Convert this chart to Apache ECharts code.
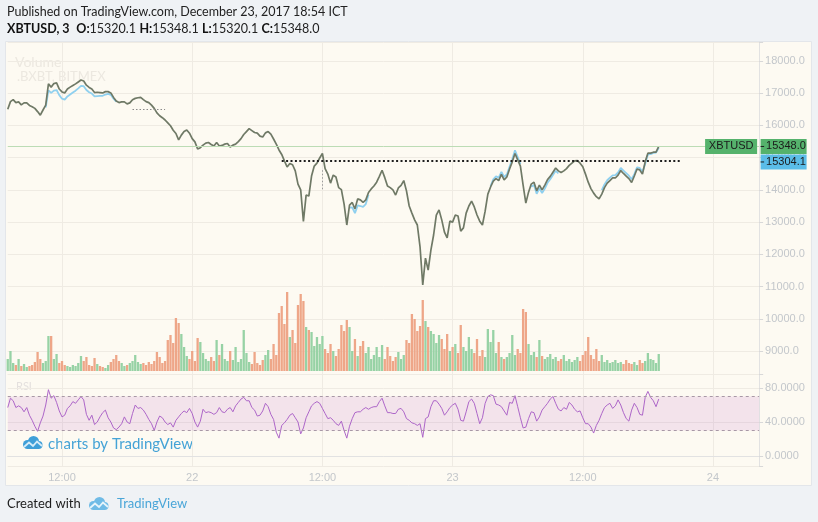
<!DOCTYPE html>
<html><head><meta charset="utf-8">
<script src="https://cdn.jsdelivr.net/npm/echarts@6/dist/echarts.min.js"></script>
<style>html,body{margin:0;padding:0;background:#eff2f5;}#c{width:818px;height:522px;}</style>
</head><body><div id="c"></div>
<script>
// ---- time axis (hours since Dec 21 00:00 ICT, 15-minute steps) ----
const startHour = 7;
const stepHours = 0.25;
const axisEndHour = 76.25;

// ---- XBTUSD (BitMEX) price, 15-minute samples ----
const price = [
16500,16740,16800,16710,16730,16640,16700,16700,16620,16580,
16530,16430,16320,16480,16630,17290,17190,17300,17320,17130,
17040,17010,17130,17190,17240,17290,17350,17410,17380,17250,
17180,17130,17020,17030,17020,17010,17050,17050,17010,16870,
16760,16710,16730,16730,16670,16700,16800,16840,16860,16870,
16800,16740,16710,16630,16530,16390,16300,16240,16170,16080,
15990,15850,15750,15550,15700,15810,15860,15760,15590,15490,
15270,15310,15390,15450,15470,15410,15360,15470,15360,15380,
15420,15440,15330,15390,15420,15500,15590,15720,15810,15900,
15840,15780,15760,15670,15640,15770,15810,15730,15580,15420,
15240,15100,14900,14710,14820,14780,14590,14180,14000,13020,
13840,13810,14430,14740,14830,14990,15130,14660,14490,14210,
14460,14400,14070,14010,13560,12910,13530,13610,13410,13720,
13690,13610,13690,13920,14030,14120,14240,14420,14610,14380,
14120,14070,14000,13840,14060,14140,14290,13970,13500,13280,
13070,12910,12230,11050,11880,11510,12130,12600,13220,13380,
13070,12690,12510,13030,13000,13220,13190,12720,12820,13280,
13500,13650,13470,13220,13030,12910,13340,13870,14090,14270,
14350,14290,14480,14310,14400,14650,14870,15130,14930,14740,
14150,13590,13930,14180,14240,13970,14150,14000,14150,14320,
14420,14550,14680,14590,14540,14590,14660,14760,14830,14900,
14910,14830,14720,14490,14240,14040,13900,13790,13720,13870,
14070,14210,14290,14370,14370,14460,14600,14510,14430,14350,
14230,14430,14650,14620,14490,14870,15140,15140,15170,15170,
15348.0];

// ---- .BXBT index, only where it separates from the price ----
const bxbtSegments = [
  {from:14, values:[16560,17090,17010,17080,17100,16940,16830,16800,16900,16960,17020,17080,17150,17230,17220,17100,17030,16990,16900,16910,16920,16920,16960,16980,16950,16830,16740]},
  {from:126, values:[13450,13460,13280,13520,13500,13470,13560,13850]},
  {from:178, values:[14120,14330,14420,14380,14560,14400,14480,14720,14950,15230,15020,14800]},
  {from:193, values:[14100,14150,13880,14050,13900,14040,14220,14330,14460,14590,14510]},
  {from:219, values:[13990,14170,14300,14380,14450,14460,14540,14680,14600,14520,14440,14330,14490,14700,14680,14560,14800,15100,15110,15150,15160,15304.1]}
];

// ---- volume (relative) ----
const volume = [
12,20,8,6,12,5,7,4,5,6, 9,19,12,8,10,35,35,12,17,8,
10,6,5,4,6,5,8,15,10,14, 6,5,13,7,5,4,3,6,9,12,
16,10,8,5,6,8,10,16,9,7, 8,6,9,7,10,19,14,8,10,31,
36,28,53,48,37,24,15,12,20,10, 33,29,18,12,10,14,10,31,16,27,
12,10,20,11,24,9,12,41,18,9, 7,19,8,6,11,16,21,12,27,16,
58,65,47,79,34,41,28,66,77,70, 44,41,39,25,34,27,35,22,18,27,
20,15,22,46,40,51,44,20,32,15, 25,30,18,24,12,16,24,14,26,12,
24,15,10,14,19,12,16,31,28,57, 52,40,45,71,50,44,40,37,28,36,
32,22,37,20,24,27,18,46,24,20, 34,22,18,32,15,21,14,42,29,41,
18,29,14,12,14,18,36,16,22,18, 62,59,27,16,19,14,31,15,12,14,
17,12,14,10,12,16,10,12,9,11, 14,10,16,20,34,16,12,22,10,16,
9,11,8,9,11,8,9,7,11,8, 7,9,6,11,8,10,18,12,11,8,
17];

// ---- RSI(14) ----
const rsi = [
57,68,65,57,59,57,52,57,48,42, 35,29,39,47,60,78,68,71,63,53,
46,48,56,59,64,62,66,70,66,49, 42,48,37,40,46,51,54,45,40,33,
31,34,38,46,40,38,50,60,56,57, 54,49,43,38,30,40,47,45,40,37,
39,34,42,46,50,53,51,56,50,40, 34,41,55,51,52,51,49,51,57,52,
51,55,57,52,59,63,67,69,65,65, 57,54,47,48,53,62,58,49,43,28,
21,36,39,43,48,50,45,40,26,33, 45,52,59,62,64,62,56,50,44,45,
42,38,36,41,30,21,35,44,51,52, 52,55,57,55,57,58,58,64,68,59,
51,51,50,50,55,56,52,44,42,39, 38,36,38,22,44,46,58,65,65,61,
56,48,52,57,60,62,55,42,41,52, 64,67,62,50,38,45,62,70,72,71,
61,60,58,53,48,63,62,71,58,45, 33,34,44,52,51,41,46,54,58,62,
67,70,62,55,53,57,55,63,60,55, 52,53,45,38,38,34,27,36,42,50,
57,60,62,56,59,66,60,51,44,41, 54,62,57,49,48,69,76,69,65,58,
67];

const lastPrice = 15348.0;
const lastIndex = 15304.1;
const levelLine = 14900;      // dotted horizontal drawing
const levelFrom = 101, levelTo = 248;
const oldLevel = 16510, oldFrom = 46, oldTo = 58;
const vMark = {at:116, hi:14610, lo:13990};
const rsiBand = [30, 70];

// ---- build ----
const cats = [];
for (let k = 0; startHour + k*stepHours <= axisEndHour + 1e-9; k++) cats.push(String(startHour + k*stepHours));
const bxbt = price.map(() => null);
bxbtSegments.forEach(s => s.values.forEach((v, j) => { bxbt[s.from + j] = v; }));

const is12 = (i, v) => Number(v) % 12 === 0;
const fmtX = v => { const h = Number(v); if (h % 24 === 0) return String(21 + h/24); if (h % 24 === 12) return '12:00'; return ''; };
const labelCol = '#c3c7cb';
const gridCol = '#efebe3';
const L = 7.75, R = 58.9;

const chart = echarts.init(document.getElementById('c'), null, {width:818, height:522});
const baseX = (gi, extra) => Object.assign({
  type:'category', gridIndex:gi, data:cats, boundaryGap:false,
  axisLine:{show:false}, axisTick:{show:false}, axisLabel:{show:false},
  splitLine:{show:true, interval:is12, lineStyle:{color:gridCol}}
}, extra||{});

const opt = {
  animation:false,
  backgroundColor:'#eff2f5',
  grid:[
    {left:L, right:R, top:42, height:332},
    {left:L, right:R, top:271, height:100},
    {left:L, right:R, top:374, height:92}
  ],
  xAxis:[
    baseX(0),
    baseX(1, {show:false, splitLine:{show:false}}),
    baseX(2, {axisLine:{show:true, lineStyle:{color:'#e2e2e2'}},
      axisLabel:{show:true, interval:is12, formatter:fmtX, color:labelCol, fontSize:11, fontFamily:'Liberation Sans', margin:6}})
  ],
  yAxis:[
    {type:'value', gridIndex:0, position:'right', min:8286, max:18590, splitNumber:10, minInterval:1000, maxInterval:1000,
     axisLine:{show:true, lineStyle:{color:'#e2e2e2'}}, axisTick:{show:true, length:4, lineStyle:{color:'#d8d8d8'}},
     axisLabel:{color:labelCol, fontSize:11, fontFamily:'Liberation Sans', margin:6,
       formatter:v => (v % 1000 === 0) ? v.toFixed(1) : ''},
     splitLine:{show:true, lineStyle:{color:gridCol}}},
    {type:'value', gridIndex:1, min:0, max:100, show:false},
    {type:'value', gridIndex:2, position:'right', min:-11.76, max:96.47, minInterval:40, maxInterval:40, splitNumber:3,
     axisLine:{show:true, lineStyle:{color:'#e2e2e2'}}, axisTick:{show:true, length:4, lineStyle:{color:'#d8d8d8'}},
     axisLabel:{color:labelCol, fontSize:11, fontFamily:'Liberation Sans', margin:6,
       formatter:v => (Math.abs(v % 40) < 1e-6) ? v.toFixed(4) : ''},
     splitLine:{show:true, lineStyle:{color:gridCol}}}
  ],
  series:[
    {type:'bar', xAxisIndex:1, yAxisIndex:1, data:volume, barWidth:2.3, z:1,
     itemStyle:{color:p => (p.dataIndex === 0 || price[p.dataIndex] >= price[p.dataIndex-1]) ? '#97d2a5' : '#eea688'}},
    {type:'line', xAxisIndex:0, yAxisIndex:0, data:bxbt, showSymbol:false, connectNulls:false, z:3,
     lineStyle:{color:'#8fd0ef', width:1.8}},
    {type:'line', xAxisIndex:0, yAxisIndex:0, data:price, showSymbol:false, z:4,
     lineStyle:{color:'#6f7966', width:1.7},
     markLine:{silent:true, symbol:'none', label:{show:false}, animation:false,
       data:[
         {yAxis:lastPrice, lineStyle:{color:'#bcdcb5', type:'solid', width:1}},
         [{coord:[cats[levelFrom], levelLine], lineStyle:{color:'#1e1e1e', type:[2,2.4], width:2}}, {coord:[cats[levelTo], levelLine]}],
         [{coord:[cats[oldFrom], oldLevel], lineStyle:{color:'#8a8a8a', type:[1.5,2], width:1}}, {coord:[cats[oldTo], oldLevel]}],
         [{coord:[cats[vMark.at], vMark.hi], lineStyle:{color:'#9a9a9a', type:[1.5,2], width:1}}, {coord:[cats[vMark.at], vMark.lo]}]
       ]}},
    {type:'line', xAxisIndex:2, yAxisIndex:2, data:rsi, showSymbol:false, z:4,
     lineStyle:{color:'#ad66c8', width:1},
     markArea:{silent:true, itemStyle:{color:'rgba(160,50,180,0.11)'}, data:[[{yAxis:rsiBand[0]},{yAxis:rsiBand[1]}]]},
     markLine:{silent:true, symbol:'none', label:{show:false},
       lineStyle:{color:'#a898a6', type:[3,3], width:1},
       data:[{yAxis:rsiBand[1]},{yAxis:rsiBand[0]}]}}
  ],
  graphic:[
    {type:'rect', id:'box', z:-10, shape:{x:5.5, y:41.5, width:806, height:444}, style:{fill:'#fdfaf2', stroke:'#e3e6ea', lineWidth:1}},
    {type:'text', id:'h1', x:7, y:12, style:{text:'Published on TradingView.com, December 23, 2017 18:54 ICT', font:'12.5px Lato', fill:'#222', textVerticalAlign:'middle'}},
    {type:'text', id:'h2', x:7, y:29, style:{text:'{b|XBTUSD, 3}  {b|O:}{n|15320.1} {b|H:}{n|15348.1} {b|L:}{n|15320.1} {b|C:}{n|15348.0}', textVerticalAlign:'middle',
      rich:{b:{fontFamily:'Lato', fontSize:12.5, fontWeight:'bold', fill:'#111'}, n:{fontFamily:'Lato', fontSize:12.5, fill:'#222'}}}},
    {type:'text', id:'vol', x:15, y:62, style:{text:'Volume', font:'14px Lato', fill:'#ece8e0', textVerticalAlign:'middle'}},
    {type:'text', id:'bx', x:17, y:77, style:{text:'.BXBT, BITMEX', font:'13px Lato', fill:'#ece8e0', textVerticalAlign:'middle'}},
    {type:'text', id:'rsiT', x:16, y:386, style:{text:'RSI', font:'11px Lato', fill:'#e4e0de', textVerticalAlign:'middle'}},
    {type:'group', id:'logo1', x:22, y:436, children:[
      {type:'circle', shape:{cx:5.5, cy:8.5, r:4.5}, style:{fill:'#3f9fd8'}},
      {type:'circle', shape:{cx:11.5, cy:5.5, r:5.5}, style:{fill:'#3f9fd8'}},
      {type:'circle', shape:{cx:16.5, cy:9, r:4}, style:{fill:'#3f9fd8'}},
      {type:'rect', shape:{x:5, y:8, width:12, height:5}, style:{fill:'#3f9fd8'}},
      {type:'polyline', shape:{points:[[2,11],[7,6.5],[11,10],[15,5.5],[20,10]]}, style:{stroke:'#d6ecf8', lineWidth:1.8, fill:null}}
    ]},
    {type:'text', id:'cbt', x:48, y:444, style:{text:'charts by TradingView', font:'15px Lato', fill:'#45a3d6', textVerticalAlign:'middle'}},
    {type:'text', id:'f1', x:7, y:504, style:{text:'Created with', font:'13px Lato', fill:'#1c1c1c', textVerticalAlign:'middle'}},
    {type:'group', id:'logo2', x:88, y:497, children:[
      {type:'circle', shape:{cx:5.5, cy:8.5, r:4.5}, style:{fill:'#6fbbe6'}},
      {type:'circle', shape:{cx:11.5, cy:5.5, r:5.5}, style:{fill:'#6fbbe6'}},
      {type:'circle', shape:{cx:16.5, cy:9, r:4}, style:{fill:'#6fbbe6'}},
      {type:'rect', shape:{x:5, y:8, width:12, height:5}, style:{fill:'#6fbbe6'}},
      {type:'polyline', shape:{points:[[2,11],[7,6.5],[11,10],[15,5.5],[20,10]]}, style:{stroke:'#e6f4fb', lineWidth:1.8, fill:null}}
    ]},
    {type:'text', id:'f2', x:117, y:504, style:{text:'TradingView', font:'13px Lato', fill:'#4aa6d8', textVerticalAlign:'middle'}}
  ]
};
chart.setOption(opt);

// price tags on the right axis, placed through the axis scale
const yLast = chart.convertToPixel({yAxisIndex:0}, lastPrice);
const yIdxRaw = chart.convertToPixel({yAxisIndex:0}, lastIndex);
const yIdx = Math.max(yIdxRaw, yLast + 15.5);
const axX = 818 - R;
const tagFont = '11px Liberation Sans';
chart.setOption({graphic:[
  {type:'rect', id:'gTag', z:100, shape:{x:axX+1.5, y:yLast-7.5, width:46, height:15}, style:{fill:'#55b26c'}},
  {type:'rect', id:'gTick', z:101, shape:{x:axX+1.5, y:yLast-0.5, width:3.5, height:1}, style:{fill:'#1e1e1e'}},
  {type:'text', id:'gTxt', z:101, x:axX+7, y:yLast, style:{text:lastPrice.toFixed(1), font:tagFont, fill:'#1b1b1b', textVerticalAlign:'middle'}},
  {type:'rect', id:'sTag', z:100, shape:{x:axX-54, y:yLast-7.5, width:52, height:15}, style:{fill:'#55b26c'}},
  {type:'text', id:'sTxt', z:101, x:axX-28, y:yLast, style:{text:'XBTUSD', font:tagFont, fill:'#1b1b1b', textAlign:'center', textVerticalAlign:'middle'}},
  {type:'rect', id:'bTag', z:100, shape:{x:axX+1.5, y:yIdx-7.5, width:46, height:15}, style:{fill:'#5bbde8'}},
  {type:'rect', id:'bTick', z:101, shape:{x:axX+1.5, y:yIdx-0.5, width:3.5, height:1}, style:{fill:'#1e1e1e'}},
  {type:'text', id:'bTxt', z:101, x:axX+7, y:yIdx, style:{text:lastIndex.toFixed(1), font:tagFont, fill:'#1b1b1b', textVerticalAlign:'middle'}}
]});
</script></body></html>
